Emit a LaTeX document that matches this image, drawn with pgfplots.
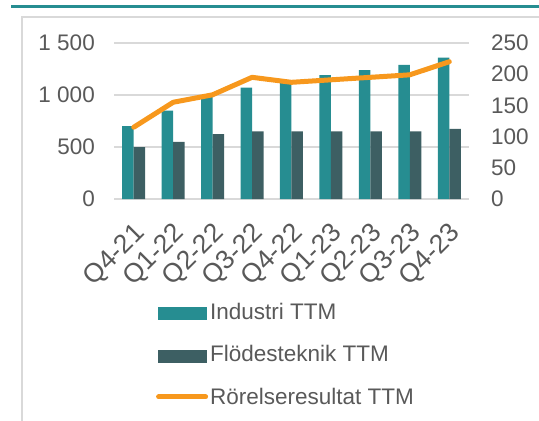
\documentclass[border=0pt]{standalone}
\usepackage{pgfplots}
\pgfplotsset{compat=1.18}
\usepackage{fontspec}
\setmainfont{Liberation Sans}
\definecolor{ind}{HTML}{268D91}
\definecolor{flo}{HTML}{3D5F63}
\definecolor{ror}{HTML}{F7981D}
\definecolor{gridc}{HTML}{D9D9D9}
\definecolor{txt}{HTML}{595959}
\definecolor{frame}{HTML}{D9D9D9}
\begin{document}
\begin{tikzpicture}[x=1pt,y=1pt]
\useasboundingbox (0,0) rectangle (539,421);
\draw[ind, line width=3pt] (11,414) -- (539,414);
\draw[frame, line width=1.5pt] (539,404) -- (22,404) -- (22,0);
\begin{axis}[
  at={(114pt,222pt)}, anchor=south west,
  scale only axis, width=355pt, height=156pt,
  xmin=-0.5, xmax=8.5, ymin=0, ymax=1500,
  ytick={0,500,1000,1500}, yticklabels={0,500,1~000,1~500},
  xtick={0,...,8},
  xticklabels={Q4-21,Q1-22,Q2-22,Q3-22,Q4-22,Q1-23,Q2-23,Q3-23,Q4-23},
  axis line style={draw=none}, major tick length=0pt,
  ymajorgrids, grid style={gridc, line width=1.3pt},
  ybar=0pt, bar width=11.5pt,
  tick label style={font=\fontsize{22.5}{27}\selectfont, text=txt},
  yticklabel style={inner sep=0pt, anchor=east, xshift=-19pt},
  xticklabel style={font=\fontsize{26.5}{31}\selectfont, inner sep=0pt, anchor=north east, xshift=-1pt, yshift=-22pt, rotate=45},
  legend style={at={(axis description cs:0.118,-0.655)}, anchor=north west, draw=none, fill=none,
    font=\fontsize{22.5}{27}\selectfont, text=txt, row sep=20.5pt, inner sep=0pt,
    /tikz/every even column/.append style={column sep=6pt}},
  legend cell align=left,
]
\addplot[fill=ind, draw=none, legend image code/.code={\fill[ind] (0pt,-8pt) rectangle (49pt,5pt);}]
  coordinates {(0,700) (1,850) (2,980) (3,1070) (4,1115) (5,1190) (6,1240) (7,1290) (8,1360)};
\addlegendentry{Industri TTM}
\addplot[fill=flo, draw=none, legend image code/.code={\fill[flo] (0pt,-8pt) rectangle (49pt,5pt);}]
  coordinates {(0,500) (1,550) (2,625) (3,650) (4,650) (5,650) (6,650) (7,650) (8,675)};
\addlegendentry{Flödesteknik TTM}
\addlegendimage{legend image code/.code={\draw[ror, line width=5pt, line cap=round] (1pt,0pt) -- (48pt,0pt);}}
\addlegendentry{Rörelseresultat TTM}
\end{axis}
\begin{axis}[
  at={(114pt,222pt)}, anchor=south west,
  scale only axis, width=355pt, height=156pt,
  xmin=-0.5, xmax=8.5, ymin=0, ymax=250,
  axis y line*=right, axis x line=none,
  ytick={0,50,100,150,200,250},
  axis line style={draw=none}, major tick length=0pt,
  /pgf/number format/assume math mode=true,
  tick label style={font=\fontsize{22.5}{27}\selectfont, text=txt},
  yticklabel style={inner sep=0pt, anchor=west, xshift=22pt},
]
\addplot[ror, line width=5pt, line join=round, line cap=round]
  coordinates {(0,115) (1,155) (2,167) (3,195) (4,187) (5,191) (6,195) (7,199) (8,220)};
\end{axis}
\end{tikzpicture}
\end{document}
